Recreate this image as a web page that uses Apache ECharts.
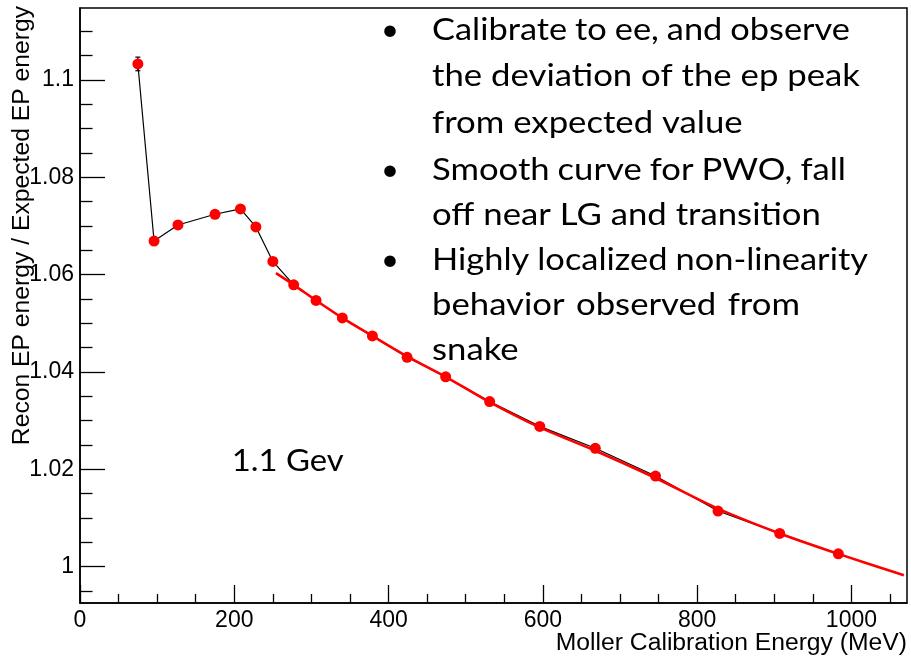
<!DOCTYPE html>
<html>
<head>
<meta charset="utf-8">
<script src="https://cdn.jsdelivr.net/npm/echarts@6/dist/echarts.min.js"></script>
<style>
  html, body { margin: 0; padding: 0; background: #ffffff; }
  #chart { width: 911px; height: 659px; }
</style>
</head>
<body>
<div id="chart"></div>
<script>
// Moller calibration: reconstructed / expected EP energy vs. calibration energy
const energy = [75, 96, 127, 175, 208, 228, 250, 277, 306, 340, 379, 424, 474, 531, 596, 668, 746, 827, 907, 983];
const ratio = [1.1033, 1.0669, 1.0702, 1.0724, 1.0735, 1.0698, 1.0627, 1.0579, 1.0547, 1.0511,
               1.0474, 1.0430, 1.0390, 1.0339, 1.0288, 1.0243, 1.0186, 1.0114, 1.0068, 1.0026];
const ratioErr = [0.0014, 0.0004, 0.0003, 0.0003, 0.0003, 0.0003, 0.0003, 0.0002, 0.0002, 0.0002,
                  0.0002, 0.0002, 0.0002, 0.0002, 0.0002, 0.0002, 0.0002, 0.0002, 0.0002, 0.0002];

// Smooth fit through the PWO region
const fitEnergy = [254, 277, 306, 340, 379, 424, 474, 531, 596, 668, 746, 827, 907, 983, 1068];
const fitRatio = [1.0603, 1.0579, 1.0547, 1.0511, 1.0474, 1.0432, 1.0390, 1.0338, 1.0286, 1.0238,
                  1.0182, 1.0119, 1.0068, 1.0026, 0.9982];

// Axis ticks
const xMajorTicks = [0, 200, 400, 600, 800, 1000];
const xMinorTicks = [50, 100, 150, 250, 300, 350, 450, 500, 550, 650, 700, 750, 850, 900, 950, 1050];
const yMajorTicks = [1, 1.02, 1.04, 1.06, 1.08, 1.1];
const yMinorTicks = [0.995, 1.005, 1.01, 1.015, 1.025, 1.03, 1.035, 1.045, 1.05, 1.055,
                     1.065, 1.07, 1.075, 1.085, 1.09, 1.095, 1.105, 1.11];

// Annotation text
const bulletLines = [
  'Calibrate to ee, and observe',
  'the deviation of the ep peak',
  'from expected value',
  'Smooth curve for PWO, fall',
  'off near LG and transition',
  'Highly localized non-linearity',
  'behavior observed from',
  'snake'
];
const bulletStarts = [0, 3, 5];
const energyNote = '1.1 Gev';
const xTitle = 'Moller Calibration Energy (MeV)';
const yTitle = 'Recon EP energy / Expected EP energy';

const X_MIN = 0, X_MAX = 1072, Y_MIN = 0.9925, Y_MAX = 1.1148;
const AXIS_FONT = '"Liberation Sans", Arial, Helvetica, sans-serif';
const NOTE_FONT_FAMILY = 'Lato, "Open Sans", sans-serif';
const NOTE_SIZE = 31;
const NOTE_STRETCH = 1.12;

const chart = echarts.init(document.getElementById('chart'), null, { renderer: 'canvas' });

// word layout for the annotation block (justified lines)
const measureCtx = document.createElement('canvas').getContext('2d');
function textWidth(s, font) { measureCtx.font = font; return measureCtx.measureText(s).width; }

const noteFont = NOTE_SIZE + 'px ' + NOTE_FONT_FAMILY;
const lineLeft = 432;
const lineRight = [850, 860, null, 846, null, 868, 800, null];
const lineBase = [41.7, 88.3, 135, 181.7, 226.7, 271.7, 316.7, 361.7];
const midShift = 0.387 * NOTE_SIZE;

const graphics = [];
bulletLines.forEach((line, i) => {
  const words = line.split(' ');
  const raw = words.map(w => textWidth(w, noteFont));
  const rawSum = raw.reduce((a, b) => a + b, 0);
  const space = textWidth(' ', noteFont);
  let stretch = NOTE_STRETCH;
  let gap = space * stretch;
  if (lineRight[i] != null && words.length > 1) {
    const room = lineRight[i] - lineLeft;
    // keep at least a plain space between words
    stretch = Math.min(NOTE_STRETCH, (room - space * (words.length - 1)) / rawSum);
    gap = (room - rawSum * stretch) / (words.length - 1);
  }
  let x = lineLeft;
  words.forEach((w, k) => {
    graphics.push({
      type: 'text', x: x, y: lineBase[i] - midShift, scaleX: stretch, silent: true,
      style: { text: w, font: noteFont, fill: '#000', align: 'left', textAlign: 'left',
               verticalAlign: 'middle', textVerticalAlign: 'middle' }
    });
    x += raw[k] * stretch + gap;
  });
});
bulletStarts.forEach(i => {
  graphics.push({
    type: 'text', x: 390, y: lineBase[i] - midShift, silent: true,
    style: { text: '\u2022', font: noteFont, fill: '#000', align: 'center', textAlign: 'center',
             verticalAlign: 'middle', textVerticalAlign: 'middle' }
  });
});
graphics.push({
  type: 'text', x: 231.7, y: 473.3 - midShift, scaleX: 1.06, silent: true,
  style: { text: energyNote, font: noteFont, fill: '#000', align: 'left', textAlign: 'left',
           verticalAlign: 'middle', textVerticalAlign: 'middle' }
});
// axis titles
graphics.push({
  type: 'text', x: 907, y: 643.3, silent: true,
  style: { text: xTitle, font: '24.7px ' + AXIS_FONT, fill: '#000', align: 'right', textAlign: 'right',
           verticalAlign: 'middle', textVerticalAlign: 'middle' }
});
graphics.push({
  type: 'text', x: 22, y: 6, rotation: Math.PI / 2, silent: true,
  style: { text: yTitle, font: '24.7px ' + AXIS_FONT, fill: '#000', align: 'right', textAlign: 'right',
           verticalAlign: 'middle', textVerticalAlign: 'middle' }
});

const pts = energy.map((e, i) => [e, ratio[i]]);
const errPts = energy.map((e, i) => [e, ratio[i], ratioErr[i]]);
const fitPts = fitEnergy.map((e, i) => [e, fitRatio[i]]);

const tickStyle = { color: '#000', width: 1.3 };
const fmtX = v => String(Math.round(v));
const fmtY = v => String(+(+v).toFixed(2));

chart.setOption({
  animation: false,
  backgroundColor: '#ffffff',
  grid: { left: 80, right: 4, top: 8, bottom: 56, show: true, borderColor: '#000', borderWidth: 1.5,
          backgroundColor: 'transparent', containLabel: false },
  xAxis: [
    { type: 'value', min: X_MIN, max: X_MAX, position: 'bottom',
      axisLine: { show: true, onZero: false, lineStyle: { color: '#000', width: 1.5 } },
      axisTick: { show: true, inside: true, length: 18, customValues: xMajorTicks, lineStyle: tickStyle },
      axisLabel: { show: true, customValues: xMajorTicks, color: '#000', fontSize: 23, fontFamily: AXIS_FONT,
                   margin: 6, formatter: fmtX },
      splitLine: { show: false } },
    { type: 'value', min: X_MIN, max: X_MAX, position: 'bottom',
      axisLine: { show: false },
      axisTick: { show: true, inside: true, length: 9, customValues: xMinorTicks, lineStyle: tickStyle },
      axisLabel: { show: false }, splitLine: { show: false } }
  ],
  yAxis: [
    { type: 'value', min: Y_MIN, max: Y_MAX, position: 'left',
      axisLine: { show: true, onZero: false, lineStyle: { color: '#000', width: 1.5 } },
      axisTick: { show: true, inside: true, length: 25, customValues: yMajorTicks, lineStyle: tickStyle },
      axisLabel: { show: true, customValues: yMajorTicks, color: '#000', fontSize: 23, fontFamily: AXIS_FONT,
                   margin: 6, formatter: fmtY },
      splitLine: { show: false } },
    { type: 'value', min: Y_MIN, max: Y_MAX, position: 'left',
      axisLine: { show: false },
      axisTick: { show: true, inside: true, length: 12.5, customValues: yMinorTicks, lineStyle: tickStyle },
      axisLabel: { show: false }, splitLine: { show: false } }
  ],
  graphic: graphics,
  series: [
    { name: 'connect', type: 'line', data: pts, symbol: 'none', z: 2,
      lineStyle: { color: '#000', width: 1.2 } },
    { name: 'fit', type: 'line', data: fitPts, symbol: 'none', smooth: 0.3, z: 3,
      lineStyle: { color: '#ff0000', width: 2.6 } },
    { name: 'error', type: 'custom', z: 4, data: errPts,
      renderItem: function (params, api) {
        const x = api.value(0), y = api.value(1), e = api.value(2);
        const top = api.coord([x, y + e]);
        const bot = api.coord([x, y - e]);
        const cap = 2.5;
        return { type: 'group', children: [
          { type: 'line', shape: { x1: top[0], y1: top[1], x2: bot[0], y2: bot[1] }, style: { stroke: '#000', lineWidth: 1.2 } },
          { type: 'line', shape: { x1: top[0] - cap, y1: top[1], x2: top[0] + cap, y2: top[1] }, style: { stroke: '#000', lineWidth: 1.2 } },
          { type: 'line', shape: { x1: bot[0] - cap, y1: bot[1], x2: bot[0] + cap, y2: bot[1] }, style: { stroke: '#000', lineWidth: 1.2 } }
        ] };
      } },
    { name: 'data', type: 'scatter', data: pts, symbol: 'circle', symbolSize: 11, z: 5,
      itemStyle: { color: '#ff0000', opacity: 1 } }
  ]
});
</script>
</body>
</html>
